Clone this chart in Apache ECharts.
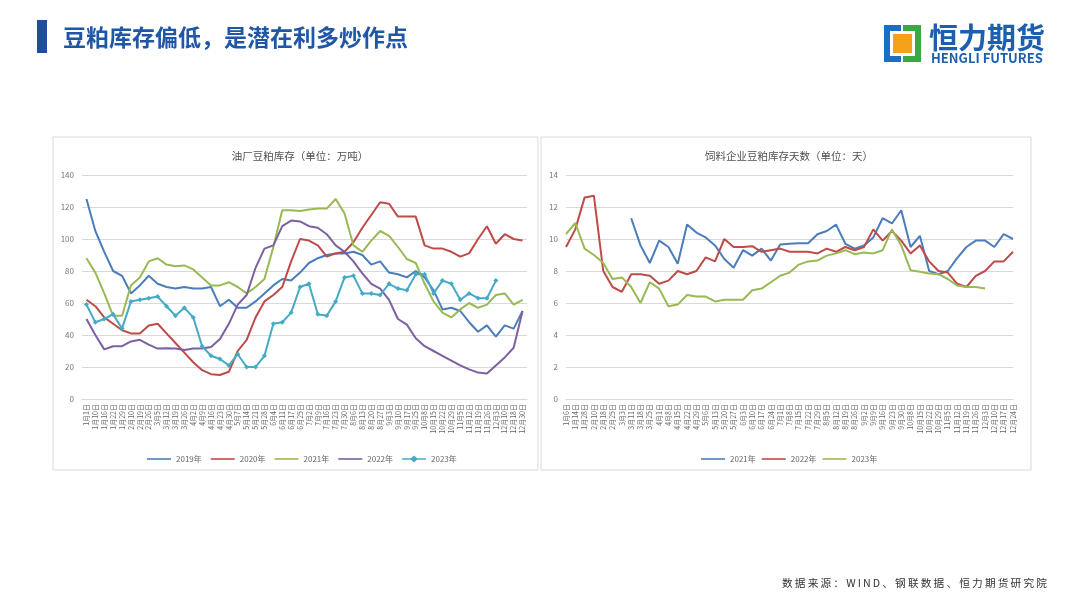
<!DOCTYPE html>
<html><head><meta charset="utf-8">
<script src="https://cdn.jsdelivr.net/npm/echarts@6/dist/echarts.min.js"></script>
<style>html,body{margin:0;padding:0;background:#fff}#c{width:1080px;height:607px}</style>
</head><body><div id="c"></div>
<script>
const leftCats = ['1月1日','1月10日','1月16日','1月22日','1月29日','2月10日','2月19日','2月26日','3月5日','3月12日','3月19日','3月26日','4月2日','4月9日','4月16日','4月23日','4月30日','5月7日','5月14日','5月21日','5月28日','6月4日','6月11日','6月17日','6月25日','7月2日','7月9日','7月16日','7月23日','7月30日','8月6日','8月13日','8月20日','8月27日','9月3日','9月10日','9月17日','9月25日','10月8日','10月15日','10月22日','10月29日','11月5日','11月12日','11月19日','11月26日','12月3日','12月10日','12月18日','12月30日'];
const y2019 = [125,105,92,80,77,66,71,77,72,70,69,70,69,69,70,58,62,57,57,61,66,71,75,74,79,85,88,90,91,91,92,90,84,86,79,78,76,80,76,68,56,57,55,48,42,46,39,46,44,55];
const y2020 = [62,58,51,47,43,41,41,46,47,41,35,29,23,18,15.5,15,17,30,37,51,61,65,70,86,100,99,96,89,91,92,98,107,115,123,122,114,114,114,96,94,94,92,89,91,100,108,97,103,100,99];
const y2021 = [88,79,66,52,52,71,76,86,88,84,83,83.5,81,76,71,71,73,70,66,70,75,95,118,118,117.5,118.5,119,119,125,116,96,92,99,105,102,95,87.5,85,72,61,54,51,56,60,57,59,65,66,59,62];
const y2022 = [50,40,31,33,33,36,37,34,31.5,31.7,31.6,30.6,31.5,31.5,32.5,37.5,47,59,65,82,94,96,108,111.5,111,108,107,103,96,92,86,78.5,72,69,62,50,46.5,38,33,30,27,24,21,18.5,16.5,16,21,26,32,55];
const y2023 = [59,48,50,53,44,61,62,63,64,58,52,57,51,33,27,25,21,28,20,20,27,47,48,54,70,72,53,52,61,76,77,66,66,65,72,69,68,78,78,66,74,72,62,66,63,63,74,null,null,null];

const rightCats = ['1月6日','1月14日','1月28日','2月10日','2月18日','2月25日','3月3日','3月11日','3月18日','3月25日','4月1日','4月8日','4月15日','4月22日','4月29日','5月6日','5月13日','5月20日','5月27日','6月3日','6月10日','6月17日','6月24日','7月1日','7月8日','7月15日','7月22日','7月29日','8月5日','8月12日','8月19日','8月26日','9月2日','9月9日','9月16日','9月23日','9月30日','10月8日','10月15日','10月22日','10月29日','11月5日','11月12日','11月19日','11月26日','12月3日','12月10日','12月17日','12月24日'];
const d2021 = [null,null,null,null,null,null,null,11.3,9.6,8.5,9.9,9.5,8.45,10.9,10.4,10.1,9.6,8.75,8.2,9.3,8.96,9.4,8.65,9.65,9.7,9.73,9.73,10.3,10.5,10.9,9.7,9.4,9.6,10.1,11.3,10.97,11.8,9.5,10.2,8.0,7.8,8.0,8.8,9.5,9.9,9.9,9.5,10.3,10.0];
const d2022 = [9.5,10.6,12.6,12.7,8.0,7.0,6.7,7.8,7.8,7.7,7.2,7.4,8.0,7.8,8.0,8.85,8.6,10.0,9.5,9.5,9.55,9.2,9.3,9.4,9.2,9.2,9.2,9.1,9.4,9.2,9.5,9.3,9.5,10.6,9.9,10.5,9.9,9.1,9.6,8.6,8.0,7.9,7.2,7.0,7.7,8.0,8.6,8.6,9.2];
const d2023 = [10.3,11.0,9.4,9.0,8.5,7.5,7.6,7.0,6.0,7.3,6.9,5.8,5.9,6.5,6.4,6.4,6.1,6.2,6.2,6.2,6.8,6.9,7.3,7.7,7.9,8.4,8.6,8.65,8.96,9.1,9.3,9.05,9.15,9.1,9.3,10.6,9.6,8.05,7.95,7.85,7.8,7.5,7.1,7.0,7.0,6.9,null,null,null];

const FONT = '"Noto Sans CJK SC", "Noto Sans", sans-serif';
const C = {b:'#4a7ebb', r:'#be4b48', g:'#98b954', p:'#7d60a0', c:'#46aac5'};
const LINE_ICON = 'path://M0,3.2 H24 V4.8 H0 Z';
const MARK_ICON = 'path://M0,3.2 H9 L12,0.5 L15,3.2 H24 V4.8 H15 L12,7.5 L9,4.8 H0 Z';
const chart = echarts.init(document.getElementById('c'));

function xAx(cats, grid, bg){
  return {type:'category', data:cats, gridIndex:grid, boundaryGap:bg,
    axisLine:{lineStyle:{color:'#d9d9d9'}}, axisTick:{show:false},
    axisLabel:{rotate:90, interval:0, fontSize:7, color:'#666', fontFamily:FONT, margin:5}};
}
function yAx(grid, max, itv){
  return {type:'value', gridIndex:grid, min:0, max:max, interval:itv,
    axisLine:{show:false}, axisTick:{show:false},
    axisLabel:{fontSize:8, color:'#777', fontFamily:FONT, margin:8},
    splitLine:{lineStyle:{color:'#d9d9d9', width:1}}};
}
function ln(name, data, color, xi, extra){
  return Object.assign({type:'line', name:name, data:data, xAxisIndex:xi, yAxisIndex:xi,
    showSymbol:false, symbol:'none', lineStyle:{color:color, width:2}, itemStyle:{color:color},
    connectNulls:false}, extra||{});
}
const src = '数据来源：WIND、钢联数据、恒力期货研究院'.split('').join('\u2009');

chart.setOption({
  animation:false,
  textStyle:{fontFamily:FONT},
  title:[
    {text:'油厂豆粕库存（单位：万吨）', left:295, top:146, textAlign:'center',
     textStyle:{fontSize:10.5, color:'#505050', fontWeight:'normal', fontFamily:FONT}},
    {text:'饲料企业豆粕库存天数（单位：天）', left:784, top:146, textAlign:'center',
     textStyle:{fontSize:10.5, color:'#505050', fontWeight:'normal', fontFamily:FONT}}
  ],
  grid:[
    {left:82, width:445, top:175, height:224},
    {left:566, width:447, top:175, height:224}
  ],
  xAxis:[xAx(leftCats,0,true), xAx(rightCats,1,false)],
  yAxis:[yAx(0,140,20), yAx(1,14,2)],
  legend:[
    {data:[{name:'2019年',icon:LINE_ICON},{name:'2020年',icon:LINE_ICON},{name:'2021年',icon:LINE_ICON},{name:'2022年',icon:LINE_ICON},{name:'2023年',icon:MARK_ICON}],
     left:142, top:450, itemWidth:24, itemHeight:8, itemGap:9,
     textStyle:{fontSize:8, color:'#666', fontFamily:FONT}},
    {data:[{name:'R2021年',icon:LINE_ICON},{name:'R2022年',icon:LINE_ICON},{name:'R2023年',icon:LINE_ICON}],
     left:696, top:450, itemWidth:24, itemHeight:8, itemGap:6,
     formatter:function(n){return n.replace('R','');},
     textStyle:{fontSize:8, color:'#666', fontFamily:FONT}}
  ],
  series:[
    ln('2019年', y2019, C.b, 0),
    ln('2020年', y2020, C.r, 0),
    ln('2021年', y2021, C.g, 0),
    ln('2022年', y2022, C.p, 0),
    ln('2023年', y2023, C.c, 0, {showSymbol:true, symbol:'diamond', symbolSize:5}),
    ln('R2021年', d2021, C.b, 1),
    ln('R2022年', d2022, C.r, 1),
    ln('R2023年', d2023, C.g, 1)
  ],
  graphic:[
    {type:'rect', shape:{x:37, y:20, width:10, height:33}, style:{fill:'#1f4e9c'}},
    {type:'text', x:63, y:37, style:{text:'豆粕库存偏低，是潜在利多炒作点', fontSize:23, fontWeight:'bold', fill:'#1f56a5', fontFamily:FONT, textVerticalAlign:'middle'}},
    {type:'rect', shape:{x:884, y:25, width:17, height:37}, style:{fill:'#1b6fc2'}},
    {type:'rect', shape:{x:903, y:25, width:18, height:37}, style:{fill:'#3aa843'}},
    {type:'rect', shape:{x:890, y:31, width:25, height:25}, style:{fill:'#ffffff'}},
    {type:'rect', shape:{x:893, y:34, width:19, height:19}, style:{fill:'#f5a21b'}},
    {type:'text', x:929, y:38, style:{text:'恒力期货', fontSize:29, fontWeight:'bold', fill:'#1b5fae', fontFamily:FONT, textVerticalAlign:'middle'}},
    {type:'text', x:931, y:58.5, style:{text:'HENGLI FUTURES', fontSize:13, fontWeight:'bold', fill:'#1b5fae', fontFamily:FONT, textVerticalAlign:'middle'}},
    {type:'rect', shape:{x:53, y:137, width:485, height:333}, style:{fill:'none', stroke:'#d9d9d9', lineWidth:1}},
    {type:'rect', shape:{x:541, y:137, width:490, height:333}, style:{fill:'none', stroke:'#d9d9d9', lineWidth:1}},
    {type:'text', x:782, y:583, style:{text:src, fontSize:10.7, fill:'#333', fontFamily:FONT, textVerticalAlign:'middle'}}
  ]
});
</script></body></html>
